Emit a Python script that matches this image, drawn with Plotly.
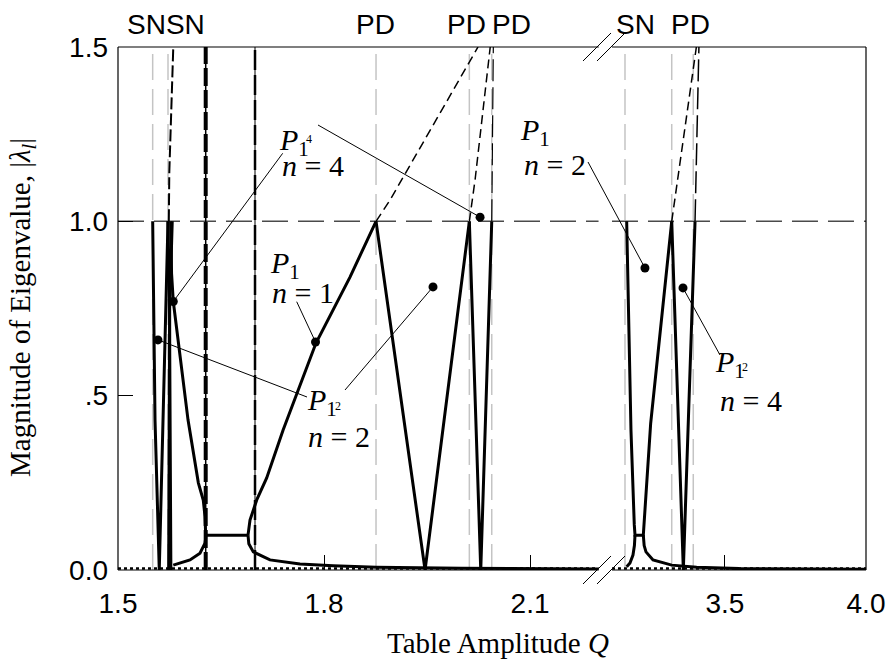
import plotly.graph_objects as go

# ---------------- data (Q = table amplitude, M = |lambda|) ----------------
# left panel (1.5 - 2.2)
v1_q = [1.5505, 1.5539, 1.5601, 1.5728]
v1_m = [1.0, 0.43, 0.0, 1.0]
b1_q = [1.5728, 1.5750, 1.5770]
b1_m = [1.0, 0.75, 0.0]
b2_q = [1.5790, 1.5752, 1.5738]
b2_m = [1.0, 0.75, 0.0]
p14_q = [1.5768, 1.5780, 1.5805, 1.5900, 1.6020, 1.6170, 1.6242, 1.6267, 1.6277]
p14_m = [1.0, 0.85, 0.77, 0.62, 0.43, 0.25, 0.20, 0.153, 0.10]
lowl_q = [1.5805, 1.6048, 1.6194, 1.6267, 1.6275, 1.6277]
lowl_m = [0.014, 0.029, 0.048, 0.077, 0.088, 0.10]
plat_q = [1.6277, 1.6893]
plat_m = [0.10, 0.10]
p1n1_q = [1.6893, 1.6922, 1.7020, 1.7165, 1.7403, 1.7883, 1.8378, 1.8757]
p1n1_m = [0.10, 0.143, 0.201, 0.264, 0.401, 0.651, 0.840, 1.0]
lowr_q = [1.6893, 1.6905, 1.6970, 1.7213, 1.7650, 1.8131, 1.8760, 2.0000, 2.2000]
lowr_m = [0.10, 0.075, 0.052, 0.029, 0.017, 0.012, 0.008, 0.005, 0.003]
vpd_q = [1.8757, 1.9471, 2.0116]
vpd_m = [1.0, 0.0, 1.0]
vnar_q = [2.0116, 2.0282, 2.0442]
vnar_m = [1.0, 0.0, 1.0]
d1_q = [1.8757, 1.8961, 2.0242]
d1_m = [1.0, 1.061, 1.5]
d2_q = [2.0116, 2.0200, 2.0420]
d2_m = [1.0, 1.12, 1.5]
d3_q = [2.0442, 2.0465]
d3_m = [1.0, 1.5]
va_q = [1.5740, 1.5747, 1.5805]
va_m = [1.0, 1.14, 1.5]
vb_q = [1.6277, 1.6277]
vc_q = [1.6995, 1.6995]
vfull_m = [0.0, 1.5]
zero_l_q = [1.5, 2.2]
zero_m = [0.004, 0.004]

# right panel (3.1 - 4.0)
r1_q = [3.1521, 3.1673, 3.1790, 3.1816, 3.2110, 3.2160, 3.2370, 3.3117]
r1_m = [1.0, 0.40, 0.13, 0.10, 0.10, 0.16, 0.42, 1.0]
r2_q = [3.1816, 3.1795, 3.1744, 3.1638, 3.1521]
r2_m = [0.10, 0.07, 0.043, 0.02, 0.0095]
r3_q = [3.2110, 3.2140, 3.2205, 3.2454, 3.3117, 3.40, 3.55, 4.0]
r3_m = [0.10, 0.07, 0.052, 0.029, 0.014, 0.008, 0.004, 0.002]
r4_q = [3.3117, 3.3528, 3.3943]
r4_m = [1.0, 0.0, 1.0]
r5_q = [3.3117, 3.3990]
r5_m = [1.0, 1.5]
r6_q = [3.3943, 3.4080]
r6_m = [1.0, 1.5]
zero_r_q = [3.1, 4.0]

# bifurcation markers
bif_l_q = [1.5505, 1.5728, 1.8757, 2.0116, 2.0442]
bif_r_q = [3.1461, 3.3117, 3.3880]
unit_m = 1.0

# labelled points
dot_l_q = [1.5582, 1.5805, 1.7876, 1.9587, 2.0272]
dot_l_m = [0.660, 0.770, 0.654, 0.812, 1.012]
dot_r_q = [3.2169, 3.3516]
dot_r_m = [0.866, 0.809]

top_labels = ["SNSN", "PD", "PD", "PD", "SN", "PD"]
top_label_x = [165.5, 375, 466, 511, 635, 690]

xl_ticks = [1.5, 1.8, 2.1]
xr_ticks = [3.5, 4.0]
y_ticks = [0.0, 0.5, 1.0, 1.5]
y_ticktext = ["0.0", ".5", "1.0", "1.5"]

# ---------------- layout geometry ----------------
W, H = 891, 670
ML, MR, MT, MB = 118, 25, 47, 100
PW, PH = W - ML - MR, H - MT - MB
XL_RANGE = [1.5, 2.2]
XR_RANGE = [3.1, 4.0]
DOM_L = [0.0, 0.6427]
DOM_R = [0.6604, 1.0]
Y_RANGE = [0.0, 1.5]


def lpx(q):
    return DOM_L[0] + (q - XL_RANGE[0]) / (XL_RANGE[1] - XL_RANGE[0]) * (DOM_L[1] - DOM_L[0])


def rpx(q):
    return DOM_R[0] + (q - XR_RANGE[0]) / (XR_RANGE[1] - XR_RANGE[0]) * (DOM_R[1] - DOM_R[0])


def ppy(m):
    return (m - Y_RANGE[0]) / (Y_RANGE[1] - Y_RANGE[0])


def fx(x):
    return (x - ML) / PW


def fy(y):
    return (H - MB - y) / PH


fig = go.Figure()
GRAY = "#c4c4c4"


def add(q, m, axis="x", color="black", width=3, dash="solid"):
    fig.add_trace(go.Scatter(x=q, y=m, xaxis=axis, yaxis="y", mode="lines",
                             line=dict(color=color, width=width, dash=dash),
                             hoverinfo="skip", showlegend=False))


# gray bifurcation lines
for q in bif_l_q:
    add([q, q], vfull_m, "x", GRAY, 1.5, "26px,9px")
for q in bif_r_q:
    add([q, q], vfull_m, "x2", GRAY, 1.5, "26px,9px")
# unit circle level
add(XL_RANGE, [unit_m, unit_m], "x", "#4a4a4a", 1.5, "26px,10px")
add(XR_RANGE, [unit_m, unit_m], "x2", "#4a4a4a", 1.5, "26px,10px")

# near-zero lines
add(zero_l_q, zero_m, "x", "black", 2.5, "dot")
add(zero_r_q, zero_m, "x2", "black", 2.5, "dot")

# left panel stable branches
for q, m in [(v1_q, v1_m), (b1_q, b1_m), (b2_q, b2_m), (p14_q, p14_m), (lowl_q, lowl_m),
             (plat_q, plat_m), (p1n1_q, p1n1_m), (lowr_q, lowr_m), (vpd_q, vpd_m), (vnar_q, vnar_m)]:
    add(q, m, "x", "black", 3)
# unstable branches
add(d1_q, d1_m, "x", "black", 1.5, "9px,5px")
add(d2_q, d2_m, "x", "black", 1.5, "9px,5px")
add(d3_q, d3_m, "x", "black", 1.2, "22px,6px")
add(va_q, va_m, "x", "black", 2, "12px,4px")
add(vb_q, vfull_m, "x", "black", 1.5)
add(vb_q, vfull_m, "x", "black", 4, "18px,4px")
add(vc_q, vfull_m, "x", "black", 1)
add(vc_q, vfull_m, "x", "black", 2.5, "20px,5px")

# right panel
for q, m in [(r1_q, r1_m), (r2_q, r2_m), (r3_q, r3_m), (r4_q, r4_m)]:
    add(q, m, "x2", "black", 3)
add(r5_q, r5_m, "x2", "black", 1.5, "9px,5px")
add(r6_q, r6_m, "x2", "black", 1.5, "22px,6px")

# dots
fig.add_trace(go.Scatter(x=dot_l_q, y=dot_l_m, xaxis="x", yaxis="y", mode="markers",
                         marker=dict(color="black", size=9), hoverinfo="skip", showlegend=False))
fig.add_trace(go.Scatter(x=dot_r_q, y=dot_r_m, xaxis="x2", yaxis="y", mode="markers",
                         marker=dict(color="black", size=9), hoverinfo="skip", showlegend=False))

shapes = []


def seg(x0, y0, x1, y1, w=1.0):
    shapes.append(dict(type="line", xref="paper", yref="paper", x0=x0, y0=y0, x1=x1, y1=y1,
                       line=dict(color="black", width=w)))


# frame
seg(0, 0, 0, 1, 1.2)
seg(1, 0, 1, 1, 1.2)
for d in (DOM_L, DOM_R):
    seg(d[0], 0, d[1], 0, 1.2)
    seg(d[0], 1, d[1], 1, 1.2)
# axis break marks
for yb in (570, 47):
    seg(fx(583), fy(yb + 14), fx(611), fy(yb - 14), 1.0)
    seg(fx(597), fy(yb + 14), fx(625), fy(yb - 14), 1.0)

# pointer lines: (tail pixel) -> dot
pointers = [((282.7, 153.3), lpx(dot_l_q[1]), ppy(dot_l_m[1])),
            ((318, 125), lpx(dot_l_q[4]), ppy(dot_l_m[4])),
            ((307, 397), lpx(dot_l_q[0]), ppy(dot_l_m[0])),
            ((296.7, 301.7), lpx(dot_l_q[2]), ppy(dot_l_m[2])),
            ((345, 390), lpx(dot_l_q[3]), ppy(dot_l_m[3])),
            ((588, 162), rpx(dot_r_q[0]), ppy(dot_r_m[0])),
            ((720, 355), rpx(dot_r_q[1]), ppy(dot_r_m[1]))]
for (tx, ty), hx, hy in pointers:
    seg(fx(tx), fy(ty), hx, hy, 1.0)

ann = []
SERIF = "Liberation Serif"
SANS = "Liberation Sans"


def text(x, y, s, size, family=SERIF, xa="center", ya="middle", angle=0):
    ann.append(dict(xref="paper", yref="paper", x=fx(x), y=fy(y), text=s, showarrow=False,
                    xanchor=xa, yanchor=ya, textangle=angle,
                    font=dict(family=family, size=size, color="black")))


for s, x in zip(top_labels, top_label_x):
    text(x, 25, s, 28, SANS)

P1 = "<i>P</i><sub>1</sub>"
text(294, 142, P1, 30); text(309, 139, "4", 12)
text(313, 165, "<i>n</i> = 4", 30)
text(285, 265, P1, 30)
text(303, 292, "<i>n</i> = 1", 30)
text(322, 402, P1, 30); text(338, 406, "2", 12)
text(339, 436, "<i>n</i> = 2", 30)
text(535, 132, P1, 30)
text(555, 164, "<i>n</i> = 2", 30)
text(730, 364, P1, 30); text(745, 367, "2", 12)
text(751, 400, "<i>n</i> = 4", 30)

text(498, 643, "Table Amplitude <i>Q</i>", 29)
text(22, 308, "Magnitude of Eigenvalue, |<i>λ<sub>l</sub></i>|", 29, angle=-90)

axis_common = dict(showgrid=False, zeroline=False, showline=False, ticks="inside", ticklen=15,
                   tickwidth=1, tickcolor="black", automargin=False,
                   tickfont=dict(family=SANS, size=28, color="black"))
fig.update_layout(
    width=W, height=H, margin=dict(l=ML, r=MR, t=MT, b=MB),
    plot_bgcolor="white", paper_bgcolor="white", showlegend=False,
    xaxis=dict(domain=DOM_L, range=XL_RANGE, tickvals=xl_ticks, ticktext=[f"{v:.1f}" for v in xl_ticks],
               anchor="y", ticklabelstandoff=14, **axis_common),
    xaxis2=dict(domain=DOM_R, range=XR_RANGE, tickvals=xr_ticks, ticktext=[f"{v:.1f}" for v in xr_ticks],
                anchor="y", ticklabelstandoff=14, **axis_common),
    yaxis=dict(domain=[0, 1], range=Y_RANGE, tickvals=y_ticks, ticktext=y_ticktext,
               anchor="x", ticklabelstandoff=9, **axis_common),
    shapes=shapes, annotations=ann,
)

fig.write_html("out.html")
